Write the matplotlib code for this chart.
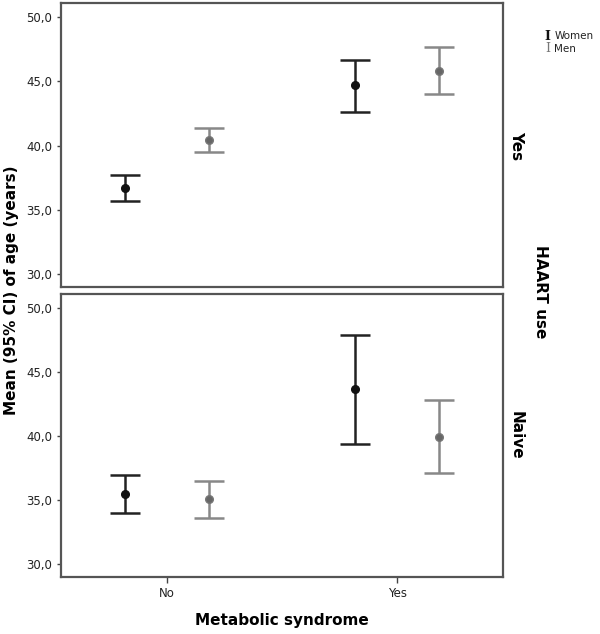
import numpy as np
import matplotlib
matplotlib.use("Agg")
import matplotlib.pyplot as plt

# Data
categories = ["No", "Yes"]
panels = ["Yes", "Naive"]  # HAART use

# mean, lower CI, upper CI for each panel / category
women_mean = {"Yes": [36.7, 44.7], "Naive": [35.5, 43.7]}
women_lo = {"Yes": [35.7, 42.6], "Naive": [34.0, 39.4]}
women_hi = {"Yes": [37.7, 46.7], "Naive": [36.95, 47.9]}

men_mean = {"Yes": [40.45, 45.8], "Naive": [35.05, 39.95]}
men_lo = {"Yes": [39.5, 44.0], "Naive": [33.6, 37.1]}
men_hi = {"Yes": [41.4, 47.7], "Naive": [36.5, 42.8]}

yticks = [30, 35, 40, 45, 50]
ytick_labels = ["30,0", "35,0", "40,0", "45,0", "50,0"]

frame_color = "#555555"

fig = plt.figure(figsize=(6.0, 6.34), dpi=100)
ax_top = fig.add_axes([0.1017, 0.547, 0.737, 0.448])
ax_bot = fig.add_axes([0.1017, 0.0899, 0.737, 0.4464])

x = np.arange(len(categories))
off = 0.183

for ax, p in zip([ax_top, ax_bot], panels):
    wm = np.array(women_mean[p])
    mm = np.array(men_mean[p])
    werr = [wm - np.array(women_lo[p]), np.array(women_hi[p]) - wm]
    merr = [mm - np.array(men_lo[p]), np.array(men_hi[p]) - mm]
    ax.errorbar(x - off, wm, yerr=werr, fmt="o", color="#111111", ecolor="#222222",
                elinewidth=1.8, capsize=11, capthick=1.8, markersize=5.5)
    ax.errorbar(x + off, mm, yerr=merr, fmt="o", color="#666666", mec="#777777",
                ecolor="#888888", elinewidth=1.8, capsize=11, capthick=1.8,
                markersize=5.5)
    ax.set_xlim(-0.46, 1.46)
    ax.set_ylim(28.98, 51.1)
    ax.set_yticks(yticks)
    ax.set_yticklabels(ytick_labels, fontsize=8.5, color="#222222")
    for s in ax.spines.values():
        s.set_color(frame_color)
        s.set_linewidth(1.6)
    ax.tick_params(axis="y", direction="out", length=3, width=1, color="#444444")
    ax.text(1.03, 0.5, p, transform=ax.transAxes, rotation=-90, ha="center",
            va="center", fontsize=11, fontweight="bold")

ax_top.set_xticks([])
ax_bot.set_xticks(x)
ax_bot.set_xticklabels(categories, fontsize=8.5, color="#222222")
ax_bot.tick_params(axis="x", direction="out", length=4, width=1, color="#444444")

fig.text(0.02, 0.542, "Mean (95% CI) of age (years)", rotation=90, ha="center",
         va="center", fontsize=11, fontweight="bold")
fig.text(0.47, 0.022, "Metabolic syndrome", ha="center", va="center",
         fontsize=11, fontweight="bold")
fig.text(0.9, 0.54, "HAART use", rotation=-90, ha="center", va="center",
         fontsize=11, fontweight="bold")

# legend
fig.text(0.913, 0.943, "I", family="DejaVu Serif", fontweight="bold", fontsize=9,
         color="#111111", ha="center", va="center")
fig.text(0.924, 0.943, "Women", fontsize=7.5, ha="left", va="center", color="#222222")
fig.text(0.913, 0.923, "I", family="DejaVu Serif", fontsize=9,
         color="#777777", ha="center", va="center")
fig.text(0.924, 0.923, "Men", fontsize=7.5, ha="left", va="center", color="#222222")

fig.savefig("out.png", dpi=100)
